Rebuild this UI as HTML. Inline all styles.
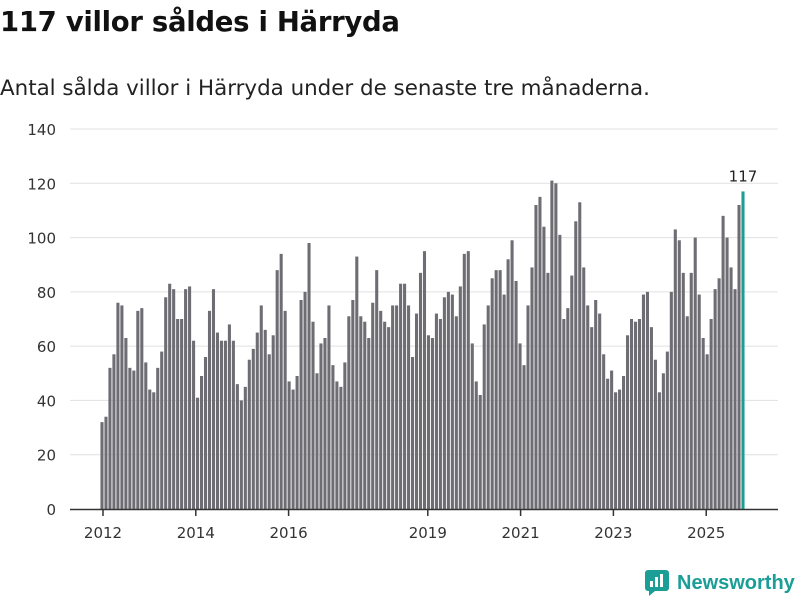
<!DOCTYPE html>
<html><head><meta charset="utf-8"><style>
body{margin:0;width:800px;height:600px;background:#fff;font-family:"DejaVu Sans",sans-serif;overflow:hidden}
h1{position:absolute;left:0;top:6px;margin:0;font-size:27.5px;font-weight:bold;color:#111;letter-spacing:-0.3px}
p.sub{position:absolute;left:0;top:76px;margin:0;font-size:21.4px;color:#222}
svg{position:absolute;left:0;top:0}
</style></head><body>
<h1>117 villor såldes i Härryda</h1>
<p class="sub">Antal sålda villor i Härryda under de senaste tre månaderna.</p>
<svg id="chart" width="800" height="600"></svg>
<script>
const values=[32,34,52,57,76,75,63,52,51,73,74,54,44,43,52,58,78,83,81,70,70,81,82,62,
41,49,56,73,81,65,62,62,68,62,46,40,
45,55,59,65,75,66,57,64,88,94,73,47,
44,49,77,80,98,69,50,61,63,75,53,47,
45,54,71,77,93,71,69,63,76,88,73,69,
67,75,75,83,83,75,56,72,87,95,64,63,
72,70,78,80,79,71,82,94,95,61,47,42,
68,75,85,88,88,79,92,99,84,61,53,75,
89,112,115,104,87,121,120,101,70,74,86,106,
113,89,75,67,77,72,57,48,51,43,44,49,
64,70,69,70,79,80,67,55,43,50,58,80,
103,99,87,71,87,100,79,63,57,70,81,85,
108,100,89,81,112,117];
const yTicks=[0,20,40,60,80,100,120,140];
const xTickYears=[2012,2014,2016,2019,2021,2023,2025];
const startYear=2012;
const svg=document.getElementById('chart');
const NS='http://www.w3.org/2000/svg';
const FONT='DejaVu Sans, sans-serif';
const y0=509,yTop=129,yMax=140;
const y=v=>y0-(v/yMax)*(y0-yTop);
const firstX=102,lastX=743;
const step=(lastX-firstX)/(values.length-1);
const xi=i=>firstX+i*step;
const yearX=yr=>103+(yr-startYear)*46.4;
function mk(t,a){const e=document.createElementNS(NS,t);for(const k in a)e.setAttribute(k,a[k]);svg.appendChild(e);return e;}
yTicks.forEach(t=>{
  if(t>0){const g=mk('line',{x1:70,x2:778,y1:y(t),y2:y(t),stroke:'#e0e0e0','stroke-width':1});
  
  }
  const l=mk('text',{x:56,y:y(t)+6,'text-anchor':'end','font-size':15,fill:'#333','font-family':FONT});
  l.textContent=t;
  
  
});
const bw=Math.max(1,step-0.9);
values.forEach((v,i)=>{
  const last=i===values.length-1;
  const r=mk('rect',{x:xi(i)-bw/2,y:y(v),width:bw,height:y0-y(v),fill:last?'#1a9e96':'#6e6d73'});
  
  
});
const ax=mk('line',{x1:70,x2:778,y1:y0+0.5,y2:y0+0.5,stroke:'#333','stroke-width':1.5});


xTickYears.forEach(yr=>{
  const x=yearX(yr);
  const tk=mk('line',{x1:x,x2:x,y1:y0,y2:y0+7,stroke:'#333','stroke-width':1.5});
  
  
  const t=mk('text',{x:x,y:538,'text-anchor':'middle','font-size':15,fill:'#333','font-family':FONT});
  t.textContent=yr;
  
  
});
const li=values.length-1;
const lab=mk('text',{x:xi(li),y:y(values[li])-10,'text-anchor':'middle','font-size':15,fill:'#222','font-family':FONT});
lab.textContent=values[li];


</script>
<div style="position:absolute;left:645px;top:570px;display:flex;align-items:center">
<svg width="24" height="26" style="position:static"><rect x="0" y="0" width="24" height="21" rx="3" fill="#1a9e96"/><path d="M4 21 L4 26 L10 21Z" fill="#1a9e96"/><rect x="5" y="11" width="3" height="6" fill="#fff"/><rect x="10" y="7" width="3" height="10" fill="#fff"/><rect x="15" y="4" width="3" height="13" fill="#fff"/></svg>
<span style="font-size:20px;font-weight:bold;color:#1a9e96;margin-left:8px;font-family:'Liberation Sans',sans-serif">Newsworthy</span>
</div>
</body></html>
